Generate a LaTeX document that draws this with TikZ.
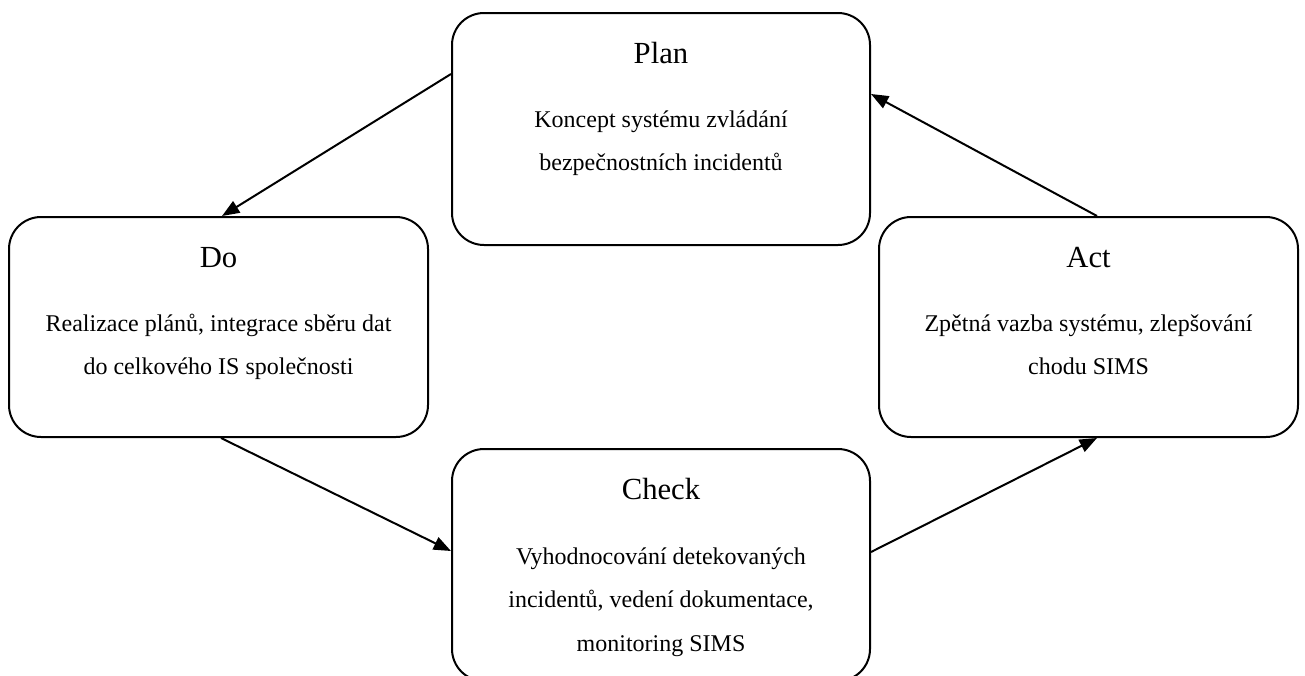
\documentclass[tikz,border=0pt]{standalone}
\usepackage{fontspec}
\setmainfont{Liberation Serif}
\usetikzlibrary{arrows.meta,calc}
\begin{document}
\begin{tikzpicture}[x=0.75pt,y=-0.75pt,
  phase/.style={draw=black,line width=1.5pt,rounded corners=24pt,inner sep=0pt,fill=white},
  ttl/.style={anchor=base,font=\fontsize{23}{27}\selectfont,inner sep=0pt},
  bdy/.style={anchor=base,font=\fontsize{18}{22}\selectfont,inner sep=0pt},
  flow/.style={line width=1.5pt,-{Triangle[length=13pt,width=10pt]}}]
\useasboundingbox (0,0) rectangle (1305,675);
\clip (0,0) rectangle (1305,675);

% boxes
\node[phase,minimum width=313.5pt,minimum height=174pt] (plan) at (661,129) {};
\node[phase,minimum width=314.25pt,minimum height=165pt] (do) at (218.5,327) {};
\node[phase,minimum width=314.25pt,minimum height=165pt] (act) at (1088.5,327) {};
\node[phase,minimum width=313.5pt,minimum height=174pt] (check) at (661,565) {};

% Plan texts
\node[ttl] (planT) at ($(plan.north)+(0,51)$) {Plan};
\node[bdy] (planB1) at ($(plan.north)+(0,115)$) {Koncept systému zvládání};
\node[bdy] (planB2) at ($(plan.north)+(0,158)$) {bezpečnostních incidentů};

% Do texts
\node[ttl] (doT) at ($(do.north)+(0,51)$) {Do};
\node[bdy] (doB1) at ($(do.north)+(0,115)$) {Realizace plánů, integrace sběru dat};
\node[bdy] (doB2) at ($(do.north)+(0,158)$) {do celkového IS společnosti};

% Act texts
\node[ttl] (actT) at ($(act.north)+(0,51)$) {Act};
\node[bdy] (actB1) at ($(act.north)+(0,115)$) {Zpětná vazba systému, zlepšování};
\node[bdy] (actB2) at ($(act.north)+(0,158)$) {chodu SIMS};

% Check texts
\node[ttl] (checkT) at ($(check.north)+(0,51)$) {Check};
\node[bdy] (checkB1) at ($(check.north)+(0,116)$) {Vyhodnocování detekovaných};
\node[bdy] (checkB2) at ($(check.north)+(0,159)$) {incidentů, vedení dokumentace,};
\node[bdy] (checkB3) at ($(check.north)+(0,203)$) {monitoring SIMS};

% connectors
\draw[flow] ($(plan.north west)+(0,62)$) -- ($(do.north west)+(214,0)$);
\draw[flow] ($(do.south west)+(213,0)$) -- ($(check.north west)+(0,103)$);
\draw[flow] ($(check.north east)+(0,104)$) -- ($(act.south west)+(219,0)$);
\draw[flow] ($(act.north west)+(219,0)$) -- ($(plan.north east)+(0,82)$);
\end{tikzpicture}
\end{document}
